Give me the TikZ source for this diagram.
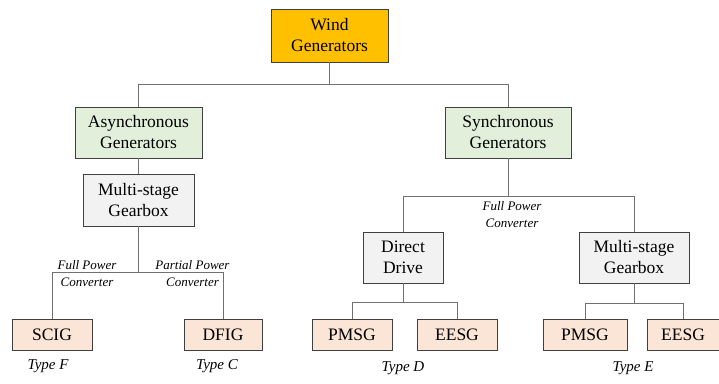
\documentclass[tikz,border=0pt]{standalone}
\usepackage{fontspec}
\setmainfont{Liberation Serif}
\usepackage{xcolor}
\usepackage{tikz}
\usetikzlibrary{positioning}

\definecolor{windfill}{HTML}{FFC000}
\definecolor{genfill}{HTML}{E2EFDA}
\definecolor{gearfill}{HTML}{F2F2F2}
\definecolor{typefill}{HTML}{FBE5D6}
\definecolor{boxline}{HTML}{404040}
\definecolor{linkline}{HTML}{707070}

\begin{document}
\begin{tikzpicture}[
  x=1pt, y=-1pt,
  box/.style={draw=boxline, line width=0.9pt, align=center, inner sep=0pt,
    font=\fontsize{17.5}{21}\selectfont},
  leaf/.style={box, fill=typefill, minimum height=31pt},
  note/.style={align=center, inner sep=0pt, font=\fontsize{13}{17}\selectfont\itshape},
  typ/.style={inner sep=0pt, font=\fontsize{15}{18}\selectfont\itshape},
  link/.style={draw=linkline, line width=0.9pt},
]
\useasboundingbox (0,0) rectangle (719,383);
% Root
\node[box, fill=windfill, minimum width=117pt, minimum height=53pt] (wind) at (329.5,35.5) {Wind\\Generators};
% Generator families
\node[box, fill=genfill, minimum width=127pt, minimum height=51pt] (async) at (138.5,132.5) {Asynchronous\\Generators};
\node[box, fill=genfill, minimum width=126pt, minimum height=51pt] (sync) at (508,132.5) {Synchronous\\Generators};
\draw[link] (wind.south) -- ++(0,22) -| (async.north);
\draw[link] (wind.south) -- ++(0,22) -| (sync.north);
% Drive trains
\node[box, fill=gearfill, minimum width=111pt, minimum height=52pt] (gearA) at (138.5,200) {Multi-stage\\Gearbox};
\node[box, fill=gearfill, minimum width=80pt, minimum height=51pt] (direct) at (403,257.5) {Direct\\Drive};
\node[box, fill=gearfill, minimum width=110pt, minimum height=51pt] (gearS) at (634,257.5) {Multi-stage\\Gearbox};
\draw[link] (async) -- (gearA);
\draw[link] (sync.south) -- ++(0,38) -| (direct.north);
\draw[link] (sync.south) -- ++(0,38) -| (gearS.north);
\node[note] (fpcS) at (512,214.5) {Full Power\\Converter};
% Machines
\node[leaf, minimum width=80pt] (scig) at (52,334.5) {SCIG};
\node[leaf, minimum width=78pt] (dfig) at (223,334.5) {DFIG};
\draw[link] (gearA.south) -- ++(0,46) -| (scig.north);
\draw[link] (gearA.south) -- ++(0,46) -| (dfig.north);
\node[note] (fpcA) at (87,273.5) {Full Power\\Converter};
\node[note] (ppcA) at (192.5,273.5) {Partial Power\\Converter};
\node[leaf, minimum width=80pt] (pmsgD) at (352,334.5) {PMSG};
\node[leaf, minimum width=80pt] (eesgD) at (457,334.5) {EESG};
\draw[link] (direct.south) -- ++(0,19) -| (pmsgD.north);
\draw[link] (direct.south) -- ++(0,19) -| (eesgD.north);
\node[leaf, minimum width=84pt] (pmsgS) at (585,334.5) {PMSG};
\node[leaf, minimum width=72pt] (eesgS) at (683,334.5) {EESG};
\draw[link] (gearS.south) -- ++(0,20) -| (pmsgS.north);
\draw[link] (gearS.south) -- ++(0,20) -| (eesgS.north);
% Type labels
\node[typ] (typeF) at (48,366) {Type F};
\node[typ] (typeC) at (217,366) {Type C};
\node[typ] (typeD) at (403,368) {Type D};
\node[typ] (typeE) at (633,368) {Type E};
\end{tikzpicture}
\end{document}
